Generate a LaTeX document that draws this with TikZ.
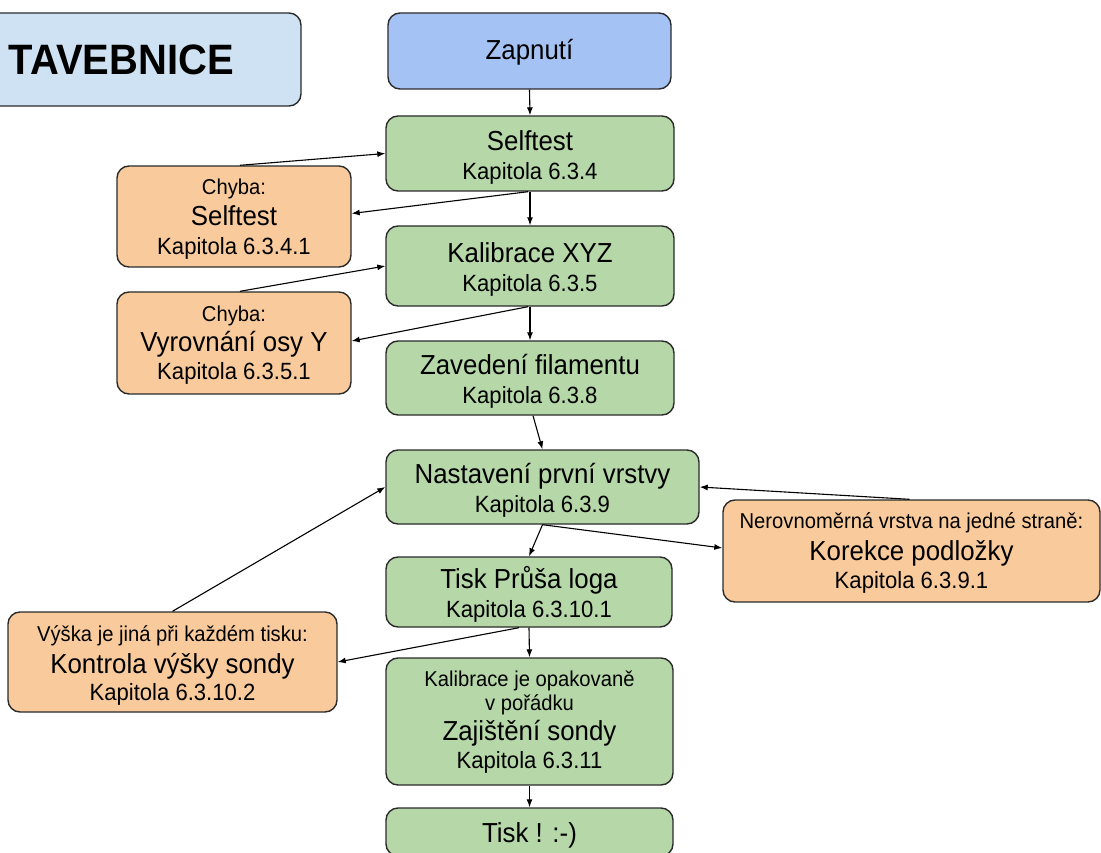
\documentclass[tikz,border=0pt]{standalone}
\usepackage{fontspec}
\setmainfont{Liberation Sans}[FakeStretch=0.94]
\usetikzlibrary{arrows.meta,calc}
\definecolor{titleblue}{HTML}{CFE2F3}
\definecolor{startblue}{HTML}{A4C2F4}
\definecolor{stepgreen}{HTML}{B6D7A8}
\definecolor{errorange}{HTML}{F9CB9C}
\definecolor{edgegray}{HTML}{2B2B2B}
\newcommand{\fbig}{\fontsize{27.5}{30}\selectfont}
\newcommand{\fsmall}{\fontsize{23.5}{30}\selectfont}
\newcommand{\ftiny}{\fontsize{21.5}{30}\selectfont}
\newcommand{\txtfont}{\fsmall\lineskiplimit=-100pt\relax\lineskip=0pt\relax}
\begin{document}
\begin{tikzpicture}[x=1pt,y=-1pt,
  box/.style={draw=edgegray, line width=1.4pt, rounded corners=12pt, inner sep=0pt},
  stepbox/.style={box, fill=stepgreen},
  errbox/.style={box, fill=errorange},
  txt/.style={inner sep=0pt, align=center, anchor=base, text=black, font=\txtfont},
  conn/.style={draw=black, line width=1.1pt, -{Latex[length=8pt,width=6pt]}}]
\useasboundingbox (0,0) rectangle (1101,853);
\clip (0,0) rectangle (1101,853);

% boxes
\node[box, fill=titleblue, minimum width=369pt, minimum height=93pt] (title) at (116.5,59.5) {};
\node[box, fill=startblue, minimum width=283pt, minimum height=76pt] (zap) at (529.5,51) {};
\node[stepbox, minimum width=288pt, minimum height=75pt] (sel) at (530,153.5) {};
\node[errbox, minimum width=234pt, minimum height=101pt] (err1) at (234,216.5) {};
\node[stepbox, minimum width=288pt, minimum height=80pt] (kal) at (530,266) {};
\node[errbox, minimum width=234pt, minimum height=102pt] (err2) at (234,343) {};
\node[stepbox, minimum width=288pt, minimum height=74pt] (zav) at (530,378) {};
\node[stepbox, minimum width=313pt, minimum height=74pt] (nas) at (542.5,487) {};
\node[errbox, minimum width=377pt, minimum height=102pt] (kor) at (911.5,551) {};
\node[stepbox, minimum width=286pt, minimum height=70pt] (logo) at (529,592) {};
\node[errbox, minimum width=329pt, minimum height=100pt] (kon) at (172.5,662) {};
\node[stepbox, minimum width=287pt, minimum height=127pt] (zaj) at (529.5,721.5) {};
\node[stepbox, minimum width=287pt, minimum height=48pt] (tisk) at (529.5,832) {};

% texts (anchored at the baseline of their last line)
\node[txt, anchor=base east, font=\fontsize{42.5}{46}\selectfont\bfseries] (titleT) at (234,75) {TAVEBNICE};
\node[txt] (zapT) at (529.5,59.5) {\fbig Zapnutí};
\node[txt] (selT) at (530,179.3) {\fbig Selftest\\[-1.7pt] Kapitola 6.3.4};
\node[txt] (err1T) at (234,254.3) {\ftiny Chyba:\\[1.7pt] \fbig Selftest\\[-1.7pt] Kapitola 6.3.4.1};
\node[txt] (kalT) at (530,291) {\fbig Kalibrace XYZ\\[-1pt] Kapitola 6.3.5};
\node[txt] (err2T) at (234,379) {\ftiny Chyba:\\ \fbig Vyrovnání osy Y\\[-2pt] Kapitola 6.3.5.1};
\node[txt] (zavT) at (530,403) {\fbig Zavedení filamentu\\[-1pt] Kapitola 6.3.8};
\node[txt] (nasT) at (542.5,512) {\fbig Nastavení první vrstvy\\[-1pt] Kapitola 6.3.9};
\node[txt] (korT) at (911.5,588) {\ftiny Nerovnoměrná vrstva na jedné straně:\\[2pt] \fbig Korekce podložky\\[-2pt] Kapitola 6.3.9.1};
\node[txt] (logoT) at (529,617) {\fbig Tisk Průša loga\\[-1pt] Kapitola 6.3.10.1};
\node[txt] (konT) at (172.5,700) {\ftiny Výška je jiná při každém tisku:\\[2pt] \fbig Kontrola výšky sondy\\[-3pt] Kapitola 6.3.10.2};
\node[txt] (zajT) at (529.5,768) {\ftiny Kalibrace je opakovaně\\[-6pt] \ftiny v pořádku\\[0pt] \fbig Zajištění sondy\\[-2pt] Kapitola 6.3.11};
\node[txt] (tiskT) at (529.5,842) {\fbig Tisk ! :-)};

% connectors
\draw[conn] (zap.south) -- (sel.north);
\draw[conn] ($(err1.north)+(6,0)$) -- (sel.west);
\draw[conn] ($(sel.south)+(-2,0)$) -- ($(err1.east)+(0,-3)$);
\draw[conn] (sel.south) -- (kal.north);
\draw[conn] ($(err2.north)+(6,0)$) -- (kal.west);
\draw[conn] ($(kal.south)+(-2,0)$) -- ($(err2.east)+(0,-2)$);
\draw[conn] (kal.south) -- (zav.north);
\draw[conn] ($(zav.south)+(3,0)$) -- (nas.north);
\draw[conn] (nas.south) -- (logo.north);
\draw[conn] (nas.south) -- ($(kor.west)+(0,-3)$);
\draw[conn] ($(kor.north)+(-2,0)$) -- (nas.east);
\draw[conn] (kon.north) -- (nas.west);
\draw[conn] ($(logo.south)+(-10,0)$) -- (kon.east);
\draw[conn] (logo.south) -- (zaj.north);
\draw[conn] (zaj.south) -- (tisk.north);
\end{tikzpicture}
\end{document}
